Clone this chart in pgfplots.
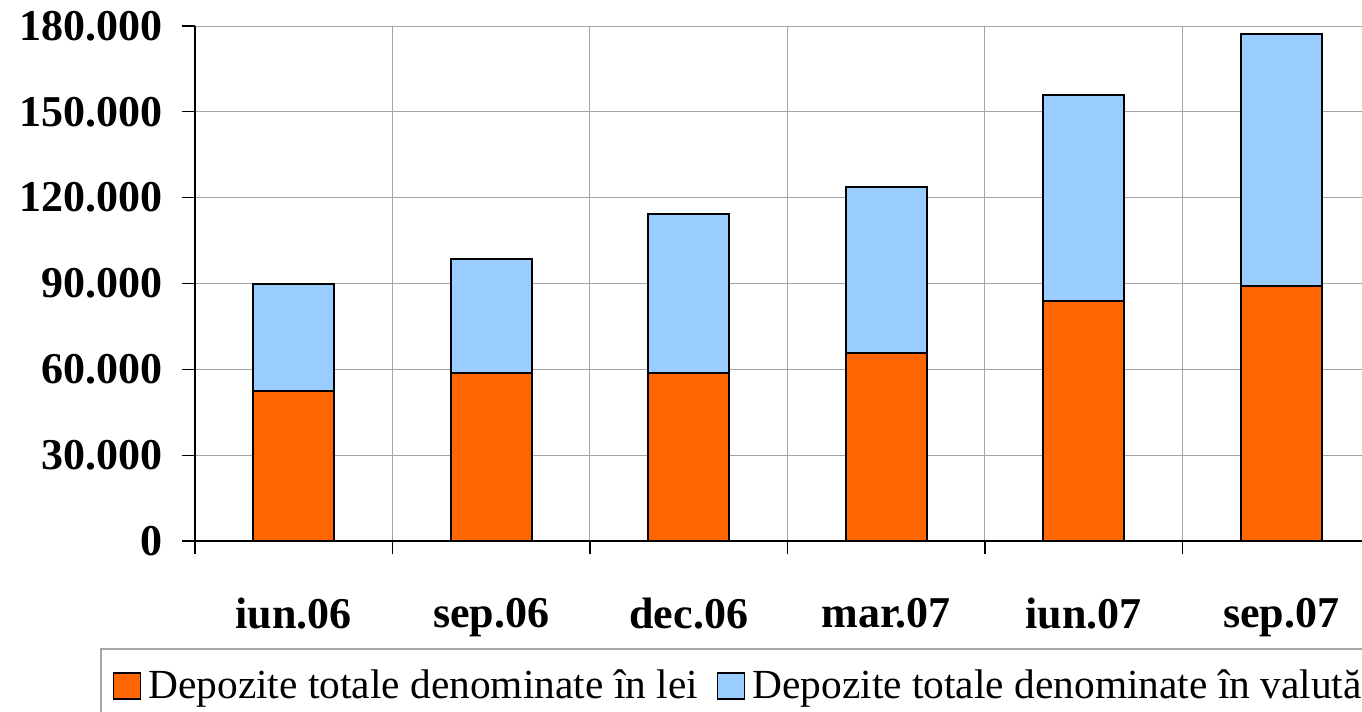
\documentclass[border=0pt]{standalone}
\usepackage{fontspec}
\setmainfont{Liberation Serif}
\usepackage{pgfplots}
\pgfplotsset{compat=1.18}
\definecolor{lei}{RGB}{255,102,0}
\definecolor{valuta}{RGB}{153,204,255}
\definecolor{gridgray}{RGB}{165,165,165}

\begin{document}
\begin{tikzpicture}
\begin{axis}[
    at={(0,0)}, anchor=south west,
    scale only axis,
    width=592.5pt, height=257.5pt,
    ybar stacked,
    bar width=40.5pt,
    xmin=-0.5, xmax=5.5,
    ymin=0, ymax=180000,
    axis lines*=left,
    axis line style={black, line width=0.6pt},
    tick align=outside,
    major tick length=6.5pt,
    tick style={black, line width=0.6pt},
    xtick={-0.5,0.5,...,5.5},
    xticklabels={},
    extra x ticks={0,1,2,3,4,5},
    extra x tick labels={iun.06,sep.06,dec.06,mar.07,iun.07,sep.07},
    extra x tick style={major tick length=0pt, grid=none,
        xticklabel style={font=\bfseries\fontsize{22}{22}\selectfont, yshift=-25pt}},
    ytick={0,30000,60000,90000,120000,150000,180000},
    yticklabels={0,30.000,60.000,90.000,120.000,150.000,180.000},
    scaled y ticks=false,
    yticklabel style={font=\bfseries\fontsize{22}{22}\selectfont, xshift=-6pt},
    xmajorgrids, ymajorgrids,
    major grid style={gridgray, line width=0.5pt},
    legend columns=2,
    legend style={at={(-0.0802,-0.2078)}, anchor=north west,
        draw=gridgray, line width=0.8pt,
        font=\fontsize{20.7}{24}\selectfont,
        inner xsep=6pt, inner ysep=8.5pt,
        /tikz/every even column/.append style={column sep=7.5pt}},
    legend image code/.code={\draw[#1, line width=0.8pt] (0pt,-6.5pt) rectangle (13.5pt,6.5pt);},
]
\addplot[fill=lei, draw=black, line width=1pt] coordinates {
    (0,52400) (1,58700) (2,58700) (3,65700) (4,83900) (5,89100)
};
\addplot[fill=valuta, draw=black, line width=1pt] coordinates {
    (0,37400) (1,39900) (2,55600) (3,58000) (4,72000) (5,88100)
};
\legend{\hspace{1.5pt}Depozite totale denominate în lei, \hspace{1.5pt}Depozite totale denominate în valută}
\end{axis}
\pgfresetboundingbox
\path[use as bounding box] (-97.5pt,-85.5pt) rectangle (583.5pt,270.5pt);
\end{tikzpicture}
\end{document}
